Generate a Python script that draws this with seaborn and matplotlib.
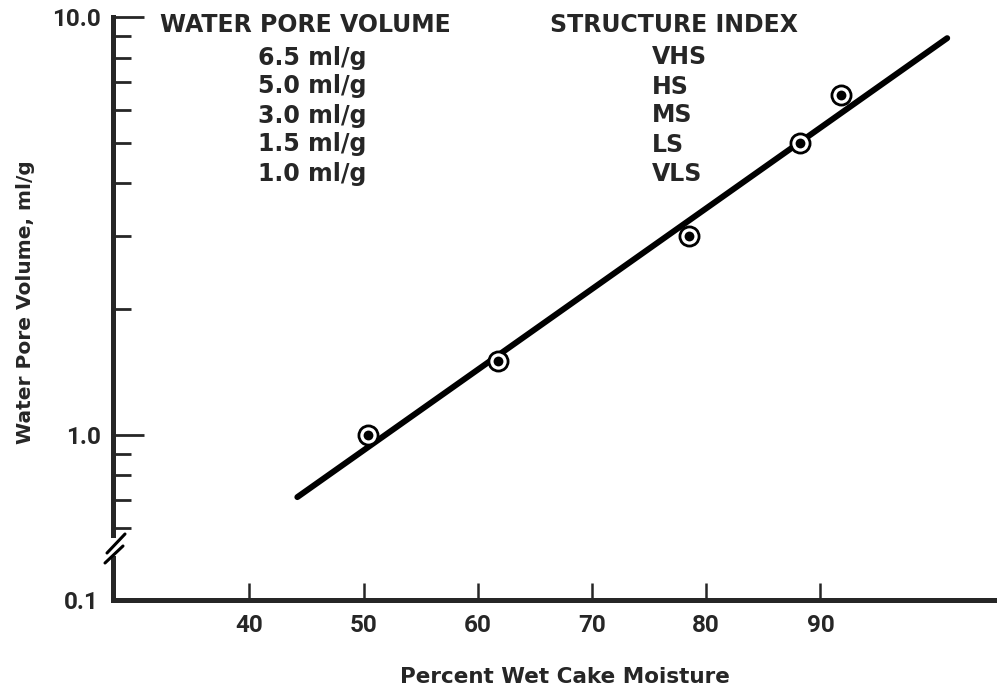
import matplotlib
matplotlib.use("Agg")
import matplotlib.pyplot as plt
from matplotlib.lines import Line2D
from matplotlib.ticker import FixedLocator, FixedFormatter, LogLocator, NullFormatter, NullLocator
import seaborn as sns

# Measured samples and the fitted trend line
moisture = [50.4, 61.8, 78.5, 88.2, 91.8]
pore_volume = [1.0, 1.5, 3.0, 5.0, 6.5]
fit_moisture = [44.2, 101.1]
fit_volume = [0.71, 8.9]

# Classification table shown in the upper left
volume_labels = ["6.5 ml/g", "5.0 ml/g", "3.0 ml/g", "1.5 ml/g", "1.0 ml/g"]
structure_index = ["VHS", "HS", "MS", "LS", "VLS"]

x_ticks = [40, 50, 60, 70, 80, 90]
y_major = [1.0, 10.0]
y_major_labels = ["1.0", "10.0"]
y_floor = [0.1]
y_floor_labels = ["0.1"]

sns.set_style("white")
plt.rcParams["font.family"] = ["DejaVu Sans"]
plt.rcParams["font.weight"] = "bold"

W, H = 997, 687
fig = plt.figure(figsize=(W / 100, H / 100), dpi=100)


def fx(px):
    return px / W


def fy(py):
    return 1 - py / H


SPINE = 3.6
TICKFONT = "Roboto"
TICKSIZE = 17.5

# Upper (logarithmic) panel and the short lower panel beneath the axis break
ax = fig.add_axes([fx(113), fy(535), fx(997 - 113), (535 - 17) / H])
axb = fig.add_axes([fx(113), fy(600), fx(997 - 113), (600 - 558) / H], sharex=ax)
for a in (ax, axb):
    a.set_facecolor("none")

ax.set_yscale("log")
axb.set_yscale("log")

sns.lineplot(x=fit_moisture, y=fit_volume, ax=ax, color="black", linewidth=4.3,
             solid_capstyle="round", zorder=2)
sns.scatterplot(x=moisture, y=pore_volume, ax=ax, s=190, marker="o",
                facecolor="white", edgecolor="black", linewidth=2.0, zorder=3)
sns.scatterplot(x=moisture, y=pore_volume, ax=ax, s=50, marker="o",
                color="black", linewidth=0, zorder=4)

ax.set_xlim(28.06, 105.46)
ax.set_ylim(0.5762, 10)
axb.set_ylim(0.1, 0.126)

# Spines
for s in ("top", "right", "bottom"):
    ax.spines[s].set_visible(False)
for s in ("top", "right"):
    axb.spines[s].set_visible(False)
ax.spines["left"].set_linewidth(SPINE)
axb.spines["left"].set_linewidth(SPINE)
axb.spines["bottom"].set_linewidth(SPINE)

# Y ticks of the upper panel
ax.yaxis.set_major_locator(FixedLocator(y_major))
ax.yaxis.set_major_formatter(FixedFormatter(y_major_labels))
ax.yaxis.set_minor_locator(LogLocator(base=10, subs=range(2, 10)))
ax.yaxis.set_minor_formatter(NullFormatter())
ax.tick_params(axis="y", which="major", direction="in", length=22, width=2,
               pad=9, labelsize=TICKSIZE, labelfontfamily=TICKFONT, left=True)
ax.tick_params(axis="y", which="minor", direction="in", length=13, width=2, left=True)
ax.tick_params(axis="x", which="both", bottom=False, labelbottom=False)

# Lower panel: only the 0.1 label and the x axis
axb.yaxis.set_major_locator(FixedLocator(y_floor))
axb.yaxis.set_major_formatter(FixedFormatter(y_floor_labels))
axb.yaxis.set_minor_locator(NullLocator())
axb.tick_params(axis="y", which="major", length=0, pad=10, labelsize=TICKSIZE,
                labelfontfamily=TICKFONT, left=True)
axb.xaxis.set_major_locator(FixedLocator(x_ticks))
axb.tick_params(axis="x", which="major", direction="in", length=12, width=1.8,
                pad=10, labelsize=TICKSIZE, labelfontfamily=TICKFONT, bottom=True)
for a in (ax, axb):
    a.set_xlabel("")
    a.set_ylabel("")

# Axis break marks
for (x0, y0, x1, y1) in [(105, 563, 123, 546), (107, 553, 125, 534)]:
    fig.add_artist(Line2D([fx(x0), fx(x1)], [fy(y0), fy(y1)], color="black",
                          linewidth=2.2, transform=fig.transFigure))

# Axis titles
fig.text(fx(565), fy(677), "Percent Wet Cake Moisture", ha="center", va="center",
         fontsize=15.5, fontweight="bold")
fig.text(fx(26), fy(302), "Water Pore Volume, ml/g", ha="center", va="center",
         rotation=90, fontsize=14.5, fontweight="bold")

# Classification table
LEG = 17
fig.text(fx(160), fy(32), "WATER PORE VOLUME", ha="left", va="baseline",
         fontsize=LEG, fontweight="bold")
fig.text(fx(550), fy(32), "STRUCTURE INDEX", ha="left", va="baseline",
         fontsize=LEG, fontweight="bold")
for i, (v, s) in enumerate(zip(volume_labels, structure_index)):
    yb = 64.5 + 29 * i
    fig.text(fx(258), fy(yb), v, ha="left", va="baseline", fontsize=LEG, fontweight="bold")
    fig.text(fx(652), fy(yb), s, ha="left", va="baseline", fontsize=LEG, fontweight="bold")

fig.savefig("out.png", dpi=100)
